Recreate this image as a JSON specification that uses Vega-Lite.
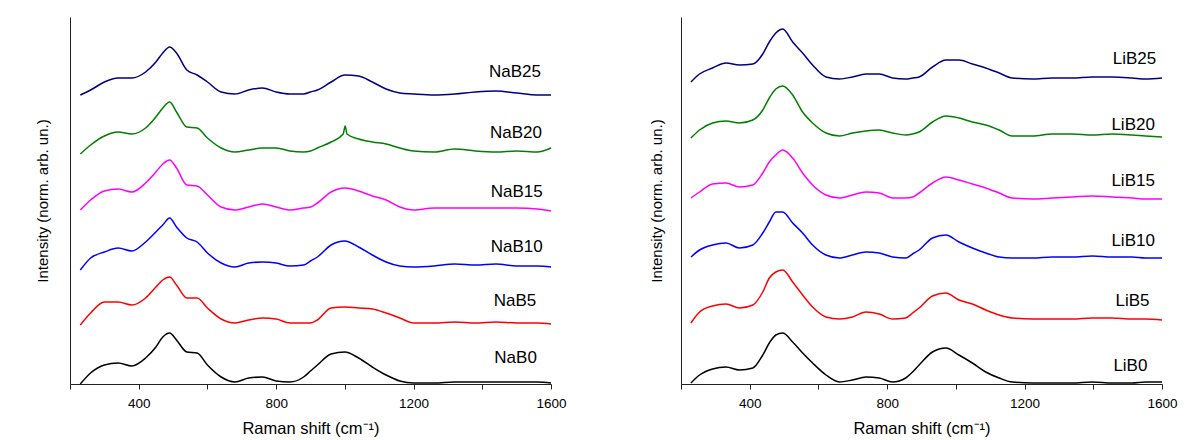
{
  "$schema": "https://vega.github.io/schema/vega-lite/v6.json",
  "background": "white",
  "padding": {"left": 35, "top": 17, "right": 10, "bottom": 5},
  "spacing": 82,
  "config": {
    "view": {"stroke": null},
    "font": "Liberation Sans",
    "axis": {"grid": false, "domainColor": "#222222", "tickColor": "#222222", "labelColor": "#000000", "titleColor": "#000000", "titleFontWeight": "normal", "labelFont": "Liberation Sans", "titleFont": "Liberation Sans"}
  },
  "datasets": {
    "na": [
      {"x": 230, "NaB0": 0, "NaB5": 59, "NaB10": 114, "NaB15": 174, "NaB20": 230, "NaB25": 289},
      {"x": 260, "NaB0": 11, "NaB5": 71, "NaB10": 126, "NaB15": 184, "NaB20": 239, "NaB25": 294},
      {"x": 300, "NaB0": 19, "NaB5": 82, "NaB10": 132, "NaB15": 193, "NaB20": 248, "NaB25": 302},
      {"x": 340, "NaB0": 21, "NaB5": 82, "NaB10": 136, "NaB15": 195, "NaB20": 252, "NaB25": 306},
      {"x": 380, "NaB0": 18, "NaB5": 79, "NaB10": 133, "NaB15": 192, "NaB20": 250, "NaB25": 306},
      {"x": 420, "NaB0": 26, "NaB5": 86, "NaB10": 142, "NaB15": 201, "NaB20": 256, "NaB25": 312},
      {"x": 450, "NaB0": 37, "NaB5": 97, "NaB10": 152, "NaB15": 212, "NaB20": 267, "NaB25": 322},
      {"x": 470, "NaB0": 47, "NaB5": 104, "NaB10": 159, "NaB15": 220, "NaB20": 276, "NaB25": 331},
      {"x": 490, "NaB0": 51, "NaB5": 107, "NaB10": 166, "NaB15": 224, "NaB20": 282, "NaB25": 337},
      {"x": 510, "NaB0": 44, "NaB5": 99, "NaB10": 157, "NaB15": 216, "NaB20": 272, "NaB25": 331},
      {"x": 540, "NaB0": 32, "NaB5": 86, "NaB10": 146, "NaB15": 199, "NaB20": 257, "NaB25": 314},
      {"x": 570, "NaB0": 31, "NaB5": 86, "NaB10": 142, "NaB15": 198, "NaB20": 256, "NaB25": 309},
      {"x": 600, "NaB0": 19, "NaB5": 76, "NaB10": 131, "NaB15": 189, "NaB20": 246, "NaB25": 302},
      {"x": 640, "NaB0": 7, "NaB5": 65, "NaB10": 121, "NaB15": 177, "NaB20": 236, "NaB25": 292},
      {"x": 680, "NaB0": 2, "NaB5": 61, "NaB10": 117, "NaB15": 174, "NaB20": 232, "NaB25": 290},
      {"x": 720, "NaB0": 6, "NaB5": 64, "NaB10": 121, "NaB15": 177, "NaB20": 234, "NaB25": 294},
      {"x": 760, "NaB0": 7, "NaB5": 66, "NaB10": 122, "NaB15": 180, "NaB20": 236, "NaB25": 296},
      {"x": 800, "NaB0": 3, "NaB5": 65, "NaB10": 121, "NaB15": 177, "NaB20": 236, "NaB25": 292},
      {"x": 840, "NaB0": 2, "NaB5": 61, "NaB10": 118, "NaB15": 174, "NaB20": 233, "NaB25": 290},
      {"x": 880, "NaB0": 7, "NaB5": 61, "NaB10": 119, "NaB15": 176, "NaB20": 232, "NaB25": 290},
      {"x": 900, "NaB0": 13, "NaB5": 61, "NaB10": 123, "NaB15": 177, "NaB20": 233, "NaB25": 292},
      {"x": 920, "NaB0": 19, "NaB5": 64, "NaB10": 127, "NaB15": 181, "NaB20": 236, "NaB25": 294},
      {"x": 960, "NaB0": 30, "NaB5": 76, "NaB10": 139, "NaB15": 192, "NaB20": 242, "NaB25": 302},
      {"x": 995, "NaB20": 250},
      {"x": 1000, "NaB0": 32, "NaB5": 77, "NaB10": 143, "NaB15": 196, "NaB25": 309},
      {"x": 1001, "NaB20": 258},
      {"x": 1006, "NaB20": 250},
      {"x": 1040, "NaB0": 26, "NaB5": 76, "NaB10": 137, "NaB15": 193, "NaB20": 245, "NaB25": 308},
      {"x": 1080, "NaB0": 17, "NaB5": 75, "NaB10": 129, "NaB15": 188, "NaB20": 242, "NaB25": 302},
      {"x": 1120, "NaB0": 9, "NaB5": 71, "NaB10": 122, "NaB15": 184, "NaB20": 240, "NaB25": 295},
      {"x": 1160, "NaB0": 3, "NaB5": 66, "NaB10": 118, "NaB15": 177, "NaB20": 236, "NaB25": 291},
      {"x": 1200, "NaB0": 1, "NaB5": 61, "NaB10": 117, "NaB15": 174, "NaB20": 233, "NaB25": 290},
      {"x": 1260, "NaB0": 1, "NaB5": 61, "NaB10": 118, "NaB15": 176, "NaB20": 232, "NaB25": 289},
      {"x": 1320, "NaB0": 2, "NaB5": 62, "NaB10": 120, "NaB15": 176, "NaB20": 235, "NaB25": 290},
      {"x": 1380, "NaB0": 2, "NaB5": 61, "NaB10": 119, "NaB15": 176, "NaB20": 233, "NaB25": 292},
      {"x": 1440, "NaB0": 2, "NaB5": 62, "NaB10": 120, "NaB15": 176, "NaB20": 232, "NaB25": 293},
      {"x": 1500, "NaB0": 2, "NaB5": 61, "NaB10": 118, "NaB15": 176, "NaB20": 233, "NaB25": 291},
      {"x": 1560, "NaB0": 2, "NaB5": 61, "NaB10": 118, "NaB15": 175, "NaB20": 232, "NaB25": 289},
      {"x": 1600, "NaB0": 1, "NaB5": 60, "NaB10": 117, "NaB15": 173, "NaB20": 236, "NaB25": 289}
    ],
    "li": [
      {"x": 229, "LiB0": 1, "LiB5": 61, "LiB10": 127, "LiB15": 186, "LiB20": 246, "LiB25": 302},
      {"x": 254, "LiB0": 9, "LiB5": 72, "LiB10": 134, "LiB15": 192, "LiB20": 254, "LiB25": 310},
      {"x": 292, "LiB0": 15, "LiB5": 78, "LiB10": 139, "LiB15": 200, "LiB20": 261, "LiB25": 316},
      {"x": 331, "LiB0": 17, "LiB5": 80, "LiB10": 141, "LiB15": 201, "LiB20": 263, "LiB25": 321},
      {"x": 370, "LiB0": 14, "LiB5": 76, "LiB10": 136, "LiB15": 197, "LiB20": 261, "LiB25": 319},
      {"x": 409, "LiB0": 16, "LiB5": 79, "LiB10": 139, "LiB15": 199, "LiB20": 264, "LiB25": 320},
      {"x": 438, "LiB0": 29, "LiB5": 92, "LiB10": 151, "LiB15": 211, "LiB20": 274, "LiB25": 330},
      {"x": 457, "LiB0": 41, "LiB5": 106, "LiB10": 162, "LiB15": 222, "LiB20": 286, "LiB25": 342},
      {"x": 476, "LiB0": 49, "LiB5": 112, "LiB10": 172, "LiB15": 229, "LiB20": 295, "LiB25": 351},
      {"x": 496, "LiB0": 51, "LiB5": 114, "LiB10": 172, "LiB15": 234, "LiB20": 298, "LiB25": 355},
      {"x": 525, "LiB0": 42, "LiB5": 102, "LiB10": 161, "LiB15": 226, "LiB20": 289, "LiB25": 342},
      {"x": 554, "LiB0": 31, "LiB5": 89, "LiB10": 151, "LiB15": 211, "LiB20": 272, "LiB25": 331},
      {"x": 583, "LiB0": 21, "LiB5": 77, "LiB10": 139, "LiB15": 199, "LiB20": 261, "LiB25": 319},
      {"x": 622, "LiB0": 9, "LiB5": 67, "LiB10": 129, "LiB15": 189, "LiB20": 251, "LiB25": 307},
      {"x": 661, "LiB0": 2, "LiB5": 65, "LiB10": 126, "LiB15": 186, "LiB20": 248, "LiB25": 305},
      {"x": 699, "LiB0": 4, "LiB5": 67, "LiB10": 129, "LiB15": 189, "LiB20": 251, "LiB25": 307},
      {"x": 738, "LiB0": 7, "LiB5": 72, "LiB10": 132, "LiB15": 192, "LiB20": 253, "LiB25": 310},
      {"x": 777, "LiB0": 6, "LiB5": 70, "LiB10": 131, "LiB15": 191, "LiB20": 254, "LiB25": 310},
      {"x": 816, "LiB0": 2, "LiB5": 65, "LiB10": 127, "LiB15": 186, "LiB20": 251, "LiB25": 306},
      {"x": 854, "LiB0": 6, "LiB5": 66, "LiB10": 126, "LiB15": 186, "LiB20": 249, "LiB25": 305},
      {"x": 874, "LiB0": 12, "LiB5": 71, "LiB10": 130, "LiB15": 187, "LiB20": 250, "LiB25": 306},
      {"x": 893, "LiB0": 19, "LiB5": 76, "LiB10": 134, "LiB15": 191, "LiB20": 252, "LiB25": 307},
      {"x": 932, "LiB0": 32, "LiB5": 88, "LiB10": 146, "LiB15": 201, "LiB20": 262, "LiB25": 317},
      {"x": 971, "LiB0": 36, "LiB5": 91, "LiB10": 149, "LiB15": 207, "LiB20": 268, "LiB25": 324},
      {"x": 1009, "LiB0": 29, "LiB5": 84, "LiB10": 142, "LiB15": 204, "LiB20": 266, "LiB25": 324},
      {"x": 1048, "LiB0": 21, "LiB5": 80, "LiB10": 136, "LiB15": 200, "LiB20": 262, "LiB25": 320},
      {"x": 1087, "LiB0": 12, "LiB5": 74, "LiB10": 131, "LiB15": 196, "LiB20": 259, "LiB25": 316},
      {"x": 1126, "LiB0": 6, "LiB5": 69, "LiB10": 127, "LiB15": 191, "LiB20": 254, "LiB25": 311},
      {"x": 1164, "LiB0": 2, "LiB5": 66, "LiB10": 126, "LiB15": 186, "LiB20": 248, "LiB25": 306},
      {"x": 1223, "LiB0": 1, "LiB5": 65, "LiB10": 126, "LiB15": 185, "LiB20": 248, "LiB25": 305},
      {"x": 1281, "LiB0": 1, "LiB5": 65, "LiB10": 127, "LiB15": 186, "LiB20": 250, "LiB25": 306},
      {"x": 1339, "LiB0": 1, "LiB5": 65, "LiB10": 127, "LiB15": 187, "LiB20": 250, "LiB25": 306},
      {"x": 1397, "LiB0": 2, "LiB5": 66, "LiB10": 128, "LiB15": 188, "LiB20": 249, "LiB25": 307},
      {"x": 1455, "LiB0": 1, "LiB5": 66, "LiB10": 127, "LiB15": 187, "LiB20": 250, "LiB25": 307},
      {"x": 1513, "LiB0": 1, "LiB5": 65, "LiB10": 127, "LiB15": 186, "LiB20": 249, "LiB25": 306},
      {"x": 1552, "LiB0": 2, "LiB5": 65, "LiB10": 126, "LiB15": 185, "LiB20": 248, "LiB25": 305},
      {"x": 1600, "LiB0": 2, "LiB5": 64, "LiB10": 126, "LiB15": 185, "LiB20": 247, "LiB25": 306}
    ],
    "naLabels": [
      {"label": "NaB25", "x": 1495, "y": 312},
      {"label": "NaB20", "x": 1498, "y": 251},
      {"label": "NaB15", "x": 1500, "y": 192},
      {"label": "NaB10", "x": 1500, "y": 137},
      {"label": "NaB5", "x": 1495, "y": 83},
      {"label": "NaB0", "x": 1497, "y": 26}
    ],
    "liLabels": [
      {"label": "LiB25", "x": 1520, "y": 325},
      {"label": "LiB20", "x": 1516, "y": 259},
      {"label": "LiB15", "x": 1516, "y": 203},
      {"label": "LiB10", "x": 1516, "y": 143},
      {"label": "LiB5", "x": 1514, "y": 83},
      {"label": "LiB0", "x": 1508, "y": 18}
    ]
  },
  "hconcat": [
    {
      "width": 481,
      "height": 367,
      "layer": [
        {
          "data": {"name": "na"},
          "transform": [
            {"fold": ["NaB0", "NaB5", "NaB10", "NaB15", "NaB20", "NaB25"], "as": ["series", "value"]},
            {"filter": "isValid(datum.value)"}
          ],
          "mark": {"type": "line", "strokeWidth": 1.5, "interpolate": "monotone"},
          "encoding": {
            "x": {"field": "x", "type": "quantitative", "title": "Raman shift (cm⁻¹)",
              "scale": {"domain": [200, 1600], "nice": false, "zero": false},
              "axis": {"values": [200, 400, 600, 800, 1000, 1200, 1400, 1600], "format": "d", "labelExpr": "datum.value % 400 === 0 ? datum.label : ''", "labelFlush": false, "tickSize": 5, "labelFontSize": 13.5, "titleFontSize": 16.5, "labelPadding": 7, "titlePadding": 11}},
            "y": {"field": "value", "type": "quantitative", "title": "Intensity (norm. arb. un.)",
              "scale": {"domain": [0, 367], "nice": false},
              "axis": {"ticks": false, "labels": false, "titleFontSize": 15, "titlePadding": 20}},
            "color": {"field": "series", "type": "nominal", "legend": null,
              "scale": {"domain": ["NaB0", "NaB5", "NaB10", "NaB15", "NaB20", "NaB25"], "range": ["#000000", "#ff0000", "#0000ff", "#ff00ff", "#008000", "#000080"]}}
          }
        },
        {
          "data": {"name": "naLabels"},
          "mark": {"type": "text", "fontSize": 17, "align": "center", "baseline": "middle", "color": "#000000"},
          "encoding": {
            "x": {"field": "x", "type": "quantitative"},
            "y": {"field": "y", "type": "quantitative"},
            "text": {"field": "label"}
          }
        }
      ]
    },
    {
      "width": 481,
      "height": 367,
      "layer": [
        {
          "data": {"name": "li"},
          "transform": [
            {"fold": ["LiB0", "LiB5", "LiB10", "LiB15", "LiB20", "LiB25"], "as": ["series", "value"]},
            {"filter": "isValid(datum.value)"}
          ],
          "mark": {"type": "line", "strokeWidth": 1.5, "interpolate": "monotone"},
          "encoding": {
            "x": {"field": "x", "type": "quantitative", "title": "Raman shift (cm⁻¹)",
              "scale": {"domain": [200, 1600], "nice": false, "zero": false},
              "axis": {"values": [200, 400, 600, 800, 1000, 1200, 1400, 1600], "format": "d", "labelExpr": "datum.value % 400 === 0 ? datum.label : ''", "labelFlush": false, "tickSize": 5, "labelFontSize": 13.5, "titleFontSize": 16.5, "labelPadding": 7, "titlePadding": 11}},
            "y": {"field": "value", "type": "quantitative", "title": "Intensity (norm. arb. un.)",
              "scale": {"domain": [0, 367], "nice": false},
              "axis": {"ticks": false, "labels": false, "titleFontSize": 15, "titlePadding": 17}},
            "color": {"field": "series", "type": "nominal", "legend": null,
              "scale": {"domain": ["LiB0", "LiB5", "LiB10", "LiB15", "LiB20", "LiB25"], "range": ["#000000", "#ff0000", "#0000ff", "#ff00ff", "#008000", "#000080"]}}
          }
        },
        {
          "data": {"name": "liLabels"},
          "mark": {"type": "text", "fontSize": 17, "align": "center", "baseline": "middle", "color": "#000000"},
          "encoding": {
            "x": {"field": "x", "type": "quantitative"},
            "y": {"field": "y", "type": "quantitative"},
            "text": {"field": "label"}
          }
        }
      ]
    }
  ]
}
